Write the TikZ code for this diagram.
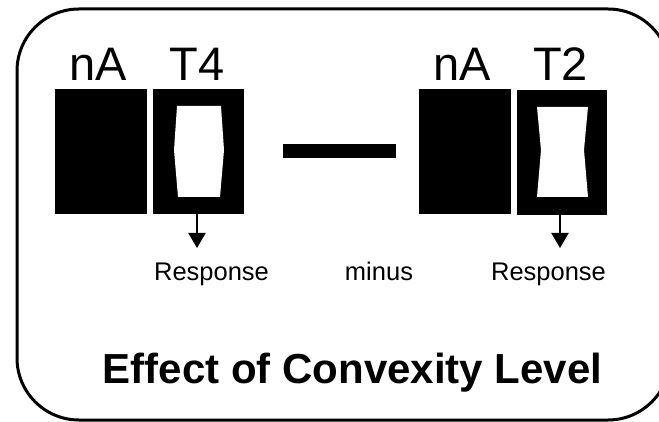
\documentclass[tikz,border=0pt]{standalone}
\usepackage{fontspec}
\setmainfont{Liberation Sans}
\usetikzlibrary{arrows.meta}
\begin{document}
\begin{tikzpicture}[x=1pt,y=-1pt,
  blackbox/.style={fill=black,draw=none,inner sep=0pt,outer sep=0pt,minimum width=#1,minimum height=125pt},
  biglabel/.style={anchor=base,inner sep=0pt,font=\fontsize{47}{50}\selectfont},
  resplabel/.style={anchor=base,inner sep=0pt,font=\fontsize{25.5}{28}\selectfont},
  resparrow/.style={line width=2pt,-{Triangle[width=17pt,length=15pt]}},
  frame/.style={line width=3pt,rounded corners=62pt}]
\useasboundingbox (0,0) rectangle (659,422);
\clip (0,0) rectangle (659,422);
% frame
\draw[frame] (17,9) rectangle (670,420);
% boxes
\node[blackbox=92pt] (nal) at (101,151.5) {};
\node[blackbox=91pt] (t4) at (198.5,151.5) {};
\node[blackbox=92pt] (nar) at (465,152) {};
\node[blackbox=90pt] (t2) at (562,152.5) {};
% white shapes
\fill[white] (177,106) -- (221,106) -- (224,150) -- (220,197) -- (178,197) -- (174,150) -- cycle;
\fill[white] (537,107) -- (588,107) -- (584,150) -- (588,197) -- (537,197) -- (541,150) -- cycle;
% minus dash
\node[fill=black,inner sep=0pt,minimum width=113pt,minimum height=14pt] (dash) at (339.5,151) {};
% top labels
\node[biglabel] (lnal) at (98.5,81) {nA};
\node[biglabel] (lt4) at (197,81) {T4};
\node[biglabel] (lnar) at (462,81) {nA};
\node[biglabel] (lt2) at (560.5,81) {T2};
% arrows
\coordinate (a1s) at (197,214);
\coordinate (a1e) at (197,248);
\coordinate (a2s) at (560,215);
\coordinate (a2e) at (560,248);
\draw[resparrow] (a1s) -- (a1e);
\draw[resparrow] (a2s) -- (a2e);
% response labels
\node[resplabel] (r1) at (211.5,281) {Response};
\node[resplabel] (mn) at (379,280) {minus};
\node[resplabel] (r2) at (548.5,281) {Response};
% title
\node[anchor=base,inner sep=0pt,font=\fontsize{42}{44}\selectfont\bfseries] (title) at (352.5,383) {Effect of Convexity Level};
\end{tikzpicture}
\end{document}
